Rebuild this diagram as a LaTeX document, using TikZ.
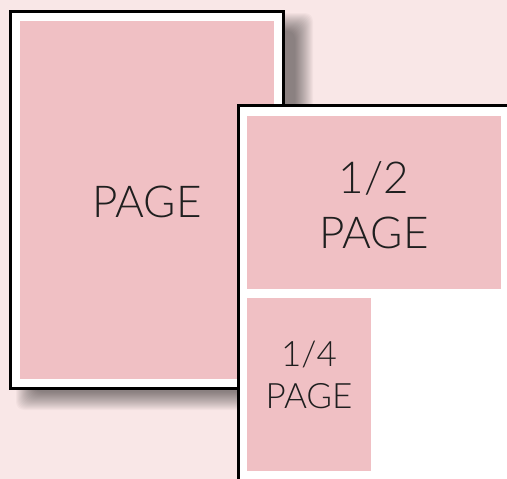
\documentclass[tikz,border=0pt]{standalone}
\usepackage{fontspec}
\setmainfont{Lato Light}
\definecolor{bgpink}{RGB}{249,231,231}
\definecolor{boxpink}{RGB}{240,192,196}
\begin{document}
\begin{tikzpicture}[x=1pt,y=-1pt,
  pagebox/.style={draw=black, line width=3pt, fill=white, inner sep=0pt, outer sep=0pt, anchor=north west},
  shadowlayer/.style={fill=black, fill opacity=0.028, rounded corners=8pt},
  pinkbox/.style={fill=boxpink, draw=none, inner sep=0pt, outer sep=0pt, anchor=north west},
  lbl/.style={text=black!88, inner sep=0pt, anchor=base},
  bigfont/.style={font=\fontsize{44}{50}\selectfont},
  smallfont/.style={font=\fontsize{35}{40}\selectfont}]
\useasboundingbox (0,0) rectangle (507,479);
\clip (0,0) rectangle (507,479);
\fill[bgpink] (0,0) rectangle (507,479);
% soft shadow of the left page
\foreach \d in {-9,...,9}{
  \fill[shadowlayer] ({25+\d},{22+\d}) rectangle ({304-\d},{401-\d});
}
% left page
\node[pagebox, minimum width=273pt, minimum height=377pt] (leftpage) at (10.5,11) {};
\node[pinkbox, minimum width=254pt, minimum height=358pt] (fullpink) at (20,21) {};
\node[lbl, bigfont] (fulltext) at (147,217) {PAGE};
% right page
\node[pagebox, minimum width=300pt, minimum height=400pt] (rightpage) at (238,105.5) {};
\node[pinkbox, minimum width=254pt, minimum height=173pt] (halfpink) at (247,116) {};
\node[pinkbox, minimum width=124pt, minimum height=173pt] (quarterpink) at (247,298) {};
\node[lbl, bigfont] (halfnum) at (374,193) {1/2};
\node[lbl, bigfont] (halftext) at (374,248) {PAGE};
\node[lbl, smallfont] (quarternum) at (309,366) {1/4};
\node[lbl, smallfont] (quartertext) at (309,408) {PAGE};
\end{tikzpicture}
\end{document}
